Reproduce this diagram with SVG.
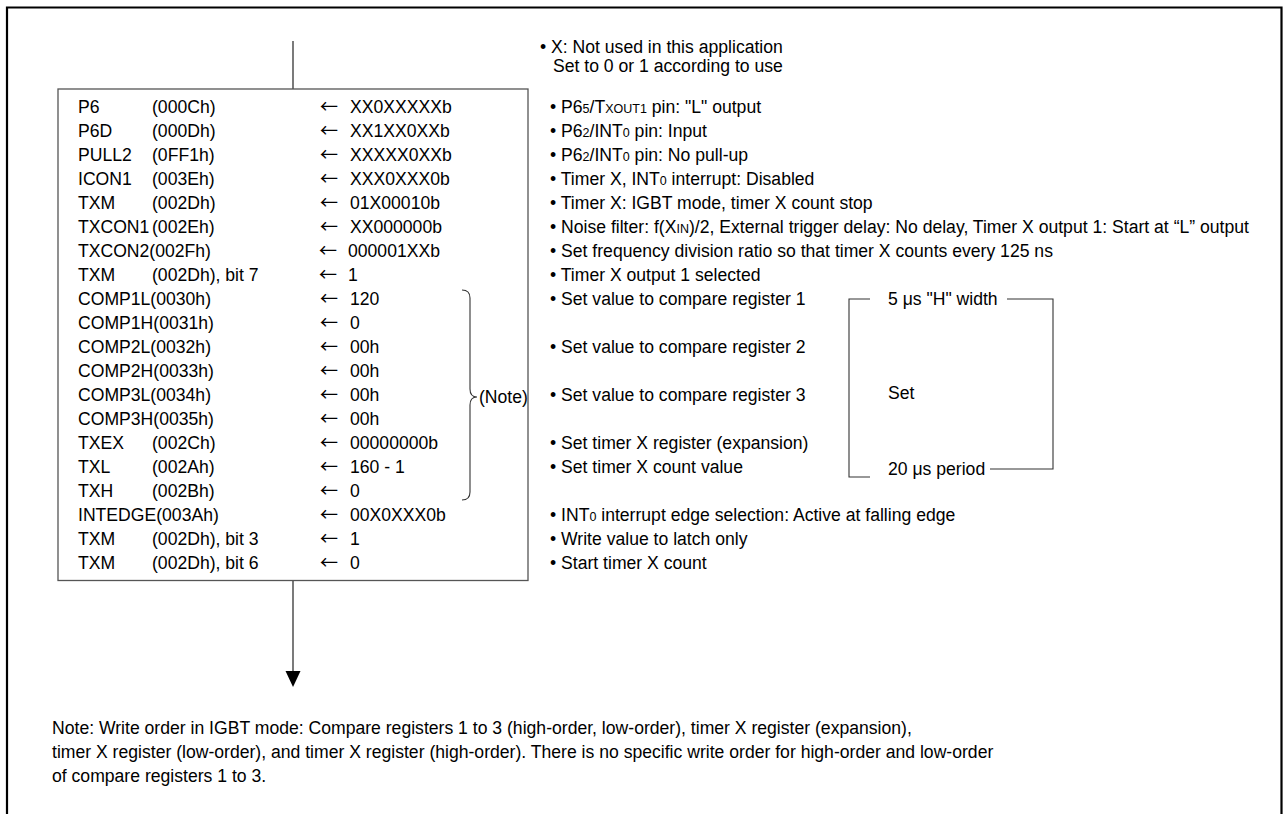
<svg xmlns="http://www.w3.org/2000/svg" width="1284" height="814" viewBox="0 0 1284 814">
<style>
text { font-family: "Liberation Sans", Arial, Helvetica, sans-serif; font-size: 17.6px; fill: #000; }
.sm { font-size: 12.5px; }
.ar { font-family: "Noto Sans CJK JP", "DejaVu Sans", sans-serif; font-size: 18px; }
.frame { fill: none; stroke: #000; stroke-width: 2.2; }
.box { fill: #fff; stroke: #555; stroke-width: 1.3; }
.flow { fill: none; stroke: #222; stroke-width: 1.2; }
.thin { fill: none; stroke: #333; stroke-width: 1.1; }
</style>
<rect width="1284" height="814" fill="#fff"/>
<path class="frame" d="M7,814 V7.5 H1281.5 V814"/>

<g id="connectors">
<line class="flow" x1="293" y1="41" x2="293" y2="89"/>
<line class="flow" x1="293" y1="581" x2="293" y2="672"/>
<path d="M285.5,671 L300.5,671 L293,687 Z" fill="#000"/>
</g>

<g id="register-box">
<rect class="box" x="58" y="89" width="470" height="491.5"/>
<g id="names">
<text x="78" y="113">P6</text><text x="152" y="113">(000Ch)</text>
<text x="78" y="137">P6D</text><text x="152" y="137">(000Dh)</text>
<text x="78" y="161">PULL2</text><text x="152" y="161">(0FF1h)</text>
<text x="78" y="185">ICON1</text><text x="152" y="185">(003Eh)</text>
<text x="78" y="209">TXM</text><text x="152" y="209">(002Dh)</text>
<text x="78" y="233">TXCON1</text><text x="152" y="233">(002Eh)</text>
<text x="78" y="257">TXCON2(002Fh)</text>
<text x="78" y="281">TXM</text><text x="152" y="281">(002Dh), bit 7</text>
<text x="78" y="305">COMP1L(0030h)</text>
<text x="78" y="329">COMP1H(0031h)</text>
<text x="78" y="353">COMP2L(0032h)</text>
<text x="78" y="377">COMP2H(0033h)</text>
<text x="78" y="401">COMP3L(0034h)</text>
<text x="78" y="425">COMP3H(0035h)</text>
<text x="78" y="449">TXEX</text><text x="152" y="449">(002Ch)</text>
<text x="78" y="473">TXL</text><text x="152" y="473">(002Ah)</text>
<text x="78" y="497">TXH</text><text x="152" y="497">(002Bh)</text>
<text x="78" y="521">INTEDGE(003Ah)</text>
<text x="78" y="545">TXM</text><text x="152" y="545">(002Dh), bit 3</text>
<text x="78" y="569">TXM</text><text x="152" y="569">(002Dh), bit 6</text>
</g>
<g id="values">
<text class="ar" x="320" y="113">←</text><text x="350" y="113">XX0XXXXXb</text>
<text class="ar" x="320" y="137">←</text><text x="350" y="137">XX1XX0XXb</text>
<text class="ar" x="320" y="161">←</text><text x="350" y="161">XXXXX0XXb</text>
<text class="ar" x="320" y="185">←</text><text x="350" y="185">XXX0XXX0b</text>
<text class="ar" x="320" y="209">←</text><text x="350" y="209">01X00010b</text>
<text class="ar" x="320" y="233">←</text><text x="350" y="233">XX000000b</text>
<text class="ar" x="319" y="257">←</text><text x="348" y="257">000001XXb</text>
<text class="ar" x="319" y="281">←</text><text x="348" y="281">1</text>
<text class="ar" x="320" y="305">←</text><text x="350" y="305">120</text>
<text class="ar" x="320" y="329">←</text><text x="350" y="329">0</text>
<text class="ar" x="320" y="353">←</text><text x="350" y="353">00h</text>
<text class="ar" x="320" y="377">←</text><text x="350" y="377">00h</text>
<text class="ar" x="320" y="401">←</text><text x="350" y="401">00h</text>
<text class="ar" x="320" y="425">←</text><text x="350" y="425">00h</text>
<text class="ar" x="320" y="449">←</text><text x="350" y="449">00000000b</text>
<text class="ar" x="320" y="473">←</text><text x="350" y="473">160 - 1</text>
<text class="ar" x="320" y="497">←</text><text x="350" y="497">0</text>
<text class="ar" x="320" y="521">←</text><text x="350" y="521">00X0XXX0b</text>
<text class="ar" x="320" y="545">←</text><text x="350" y="545">1</text>
<text class="ar" x="320" y="569">←</text><text x="350" y="569">0</text>
</g>
<path class="thin" d="M462,290 Q470,290 470,298 V389 Q470,397 477,397 Q470,397 470,405 V492 Q470,500 462,500"/>
<text x="479" y="403">(Note)</text>
</g>

<g id="annotations">
<text x="540" y="53">• X: Not used in this application</text>
<text x="553" y="72">Set to 0 or 1 according to use</text>
<text x="550" y="113">• P6<tspan class="sm">5</tspan>/T<tspan class="sm">XOUT1</tspan> pin: "L" output</text>
<text x="550" y="137">• P6<tspan class="sm">2</tspan>/INT<tspan class="sm">0</tspan> pin: Input</text>
<text x="550" y="161">• P6<tspan class="sm">2</tspan>/INT<tspan class="sm">0</tspan> pin: No pull-up</text>
<text x="550" y="185">• Timer X, INT<tspan class="sm">0</tspan> interrupt: Disabled</text>
<text x="550" y="209">• Timer X: IGBT mode, timer X count stop</text>
<text x="550" y="233">• Noise filter: f(X<tspan class="sm">IN</tspan>)/2, External trigger delay: No delay, Timer X output 1: Start at “L” output</text>
<text x="550" y="257">• Set frequency division ratio so that timer X counts every 125 ns</text>
<text x="550" y="281">• Timer X output 1 selected</text>
<text x="550" y="305">• Set value to compare register 1</text>
<text x="550" y="353">• Set value to compare register 2</text>
<text x="550" y="401">• Set value to compare register 3</text>
<text x="550" y="449">• Set timer X register (expansion)</text>
<text x="550" y="473">• Set timer X count value</text>
<text x="550" y="521">• INT<tspan class="sm">0</tspan> interrupt edge selection: Active at falling edge</text>
<text x="550" y="545">• Write value to latch only</text>
<text x="550" y="569">• Start timer X count</text>
</g>

<g id="timing-set">
<path class="thin" d="M870,299 H849 V477 H870"/>
<path class="thin" d="M1007,299 H1053 V469 H990"/>
<text x="888" y="305">5 μs "H" width</text>
<text x="888" y="399">Set</text>
<text x="888" y="475">20 μs period</text>
</g>

<g id="note">
<text x="52" y="734">Note: Write order in IGBT mode: Compare registers 1 to 3 (high-order, low-order), timer X register (expansion),</text>
<text x="52" y="758">timer X register (low-order), and timer X register (high-order). There is no specific write order for high-order and low-order</text>
<text x="52" y="782">of compare registers 1 to 3.</text>
</g>
</svg>
